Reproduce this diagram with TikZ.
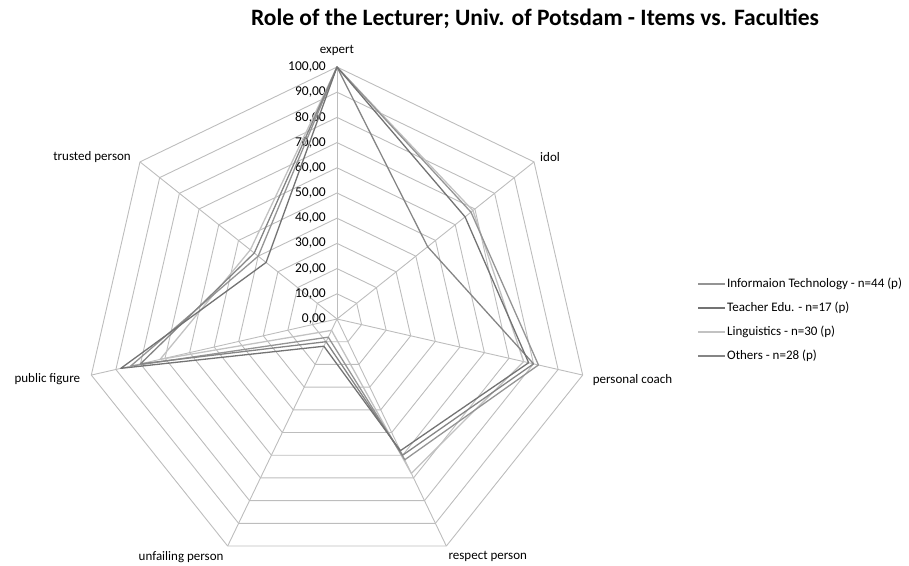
\documentclass[tikz,border=0pt]{standalone}
\usepackage{fontspec}
\setmainfont{Carlito}
\usetikzlibrary{positioning}

\definecolor{webgray}{gray}{0.74}
\definecolor{itgray}{gray}{0.58}
\definecolor{teachgray}{gray}{0.45}
\definecolor{linggray}{gray}{0.76}
\definecolor{othgray}{gray}{0.52}

\tikzset{
  webline/.style={draw=webgray, line width=0.9pt},
  series/.style={line width=1.3pt, line join=round},
  axislabel/.style={font=\fontsize{13}{15}\selectfont, inner sep=0pt},
  ticklabel/.style={font=\fontsize{13.5}{15}\selectfont, anchor=east, inner sep=0pt},
  legendtext/.style={font=\fontsize{13}{15}\selectfont, inner sep=0pt},
}

% one closed trace over the seven spokes, values in percent
\newcommand{\radartrace}[7]{(90:2.52*#1) -- ({90-360/7}:2.52*#2) -- ({90-2*360/7}:2.52*#3)
  -- ({90-3*360/7}:2.52*#4) -- ({90-4*360/7}:2.52*#5) -- ({90-5*360/7}:2.52*#6)
  -- ({90-6*360/7}:2.52*#7) -- cycle}

\begin{document}
\begin{tikzpicture}[x=1pt, y=1pt]
    \useasboundingbox (0,0) rectangle (909,565);
    \node[font=\bfseries\fontsize{23.5}{26}\selectfont] (title) at (535,546)
        {Role of the Lecturer; Univ. of Potsdam - Items vs. Faculties};

    \coordinate (c) at (337,246);
    \begin{scope}[shift={(c)}]
        % web
        \foreach \i in {0,...,6}
            \coordinate (v\i) at ({90-\i*360/7}:252);
        \foreach \k in {1,...,10}
            \draw[webline] (90:25.2*\k) \foreach \i in {1,...,6} { -- ({90-\i*360/7}:25.2*\k) } -- cycle;
        \foreach \i in {0,...,6}
            \draw[webline] (c) -- (v\i);
        \foreach \k in {0,...,10}
            \node[ticklabel] (t\k) at (-11,25.2*\k) {\the\numexpr\k*10\relax,00};

        % faculties
        \draw[series, linggray]  \radartrace{100}{69}{76}{68}{5}{72}{44};
        \draw[series, itgray]    \radartrace{100}{68}{82}{62}{8}{84}{40};
        \draw[series, othgray]   \radartrace{100}{46}{80}{60}{10}{80}{42};
        \draw[series, teachgray] \radartrace{100}{65}{78}{58}{12}{88}{36};
    \end{scope}

    % spoke labels
    \node[axislabel, above=11pt of v0] (expert) {expert};
    \node[axislabel, right=6pt of v1, yshift=5pt] (idol) {idol};
    \node[axislabel, right=10pt of v2, yshift=-5pt] (coach) {personal coach};
    \node[axislabel, below right=5pt and 2pt of v3] (respect) {respect person};
    \node[axislabel, below left=5pt and 4pt of v4] (unfailing) {unfailing person};
    \node[axislabel, left=11pt of v5, yshift=-4pt] (public) {public figure};
    \node[axislabel, left=9pt of v6, yshift=5pt] (trusted) {trusted person};

    % legend
    \foreach \lab/\col [count=\j] in {Informaion Technology - n=44 (p)/itgray,
                                      Teacher Edu. - n=17 (p)/teachgray,
                                      Linguistics - n=30 (p)/linggray,
                                      Others - n=28 (p)/othgray} {
        \coordinate (k\j) at (698,{305-24*\j});
        \draw[series, \col] (k\j) -- ++(27,0) coordinate (ke\j);
        \node[legendtext, right=2pt of ke\j] (leg\j) {\lab};
    }
\end{tikzpicture}
\end{document}
